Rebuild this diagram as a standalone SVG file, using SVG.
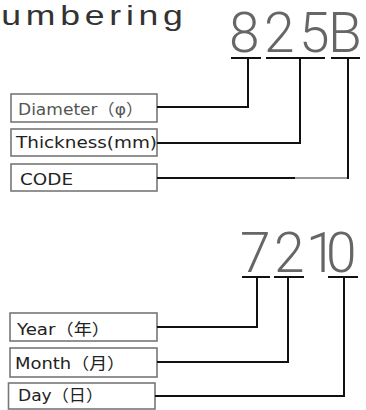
<svg xmlns="http://www.w3.org/2000/svg" width="366" height="410" viewBox="0 0 366 410">
<style>
.title{font-family:"Liberation Sans",Arial,sans-serif;font-size:28px;fill:#333;}
.num{font-family:Roboto,"Liberation Sans",sans-serif;font-weight:300;font-size:55px;fill:#666;}
.box{fill:#fff;stroke:#777;stroke-width:1.6;}
.lbl{font-family:"DejaVu Sans","Noto Sans CJK JP",sans-serif;font-size:16px;fill:#222;}
.bar{stroke:#111;stroke-width:2;fill:none;}
.con{stroke:#111;stroke-width:2;fill:none;}
</style>
<rect width="366" height="410" fill="#fff"/>
<text class="title" transform="scale(1.27 1)" x="1" y="25.5" textLength="143" lengthAdjust="spacing">umbering</text>

<g id="code1">
<text class="num" x="229 264 299 328" y="52">825B</text>
<path class="bar" d="M231 58H261M266 58H325M331 58H360"/>
</g>
<g id="code2">
<text class="num" x="240 274 306 326" y="272">7210</text>
<path class="bar" d="M242 277H270M274 277H304M328 277H358"/>
</g>

<g id="diameter">
<rect class="box" x="11" y="94" width="146" height="28"/>
<text class="lbl" x="18" y="115" style="fill:#555" textLength="125" lengthAdjust="spacingAndGlyphs">Diameter（φ）</text>
</g>
<g id="thickness">
<rect class="box" x="11" y="129" width="146" height="27"/>
<text class="lbl" x="16" y="148" textLength="141" lengthAdjust="spacingAndGlyphs">Thickness(mm)</text>
</g>
<g id="code">
<rect class="box" x="11" y="164" width="146" height="27"/>
<text class="lbl" x="20" y="185" textLength="53" lengthAdjust="spacingAndGlyphs">CODE</text>
</g>
<g id="year">
<rect class="box" x="10" y="313" width="147" height="28"/>
<text class="lbl" x="17" y="335" textLength="93" lengthAdjust="spacingAndGlyphs">Year（年）</text>
</g>
<g id="month">
<rect class="box" x="10" y="348" width="147" height="29"/>
<text class="lbl" x="15" y="369" textLength="110" lengthAdjust="spacingAndGlyphs">Month（月）</text>
</g>
<g id="day">
<rect class="box" x="8.5" y="383" width="146.5" height="26"/>
<text class="lbl" x="18" y="401" textLength="85" lengthAdjust="spacingAndGlyphs">Day（日）</text>
</g>

<g id="connectors">
<path class="con" d="M157 107H248V58"/>
<path class="con" d="M157 143H300V58"/>
<path class="con" d="M157 178H295"/>
<path d="M295 178H348" stroke="#999" stroke-width="2" fill="none"/>
<path class="con" d="M348 179V58"/>
<path class="con" d="M157 327H257V277"/>
<path class="con" d="M157 362H288V277"/>
<path class="con" d="M155 396H344V277"/>
</g>
</svg>
